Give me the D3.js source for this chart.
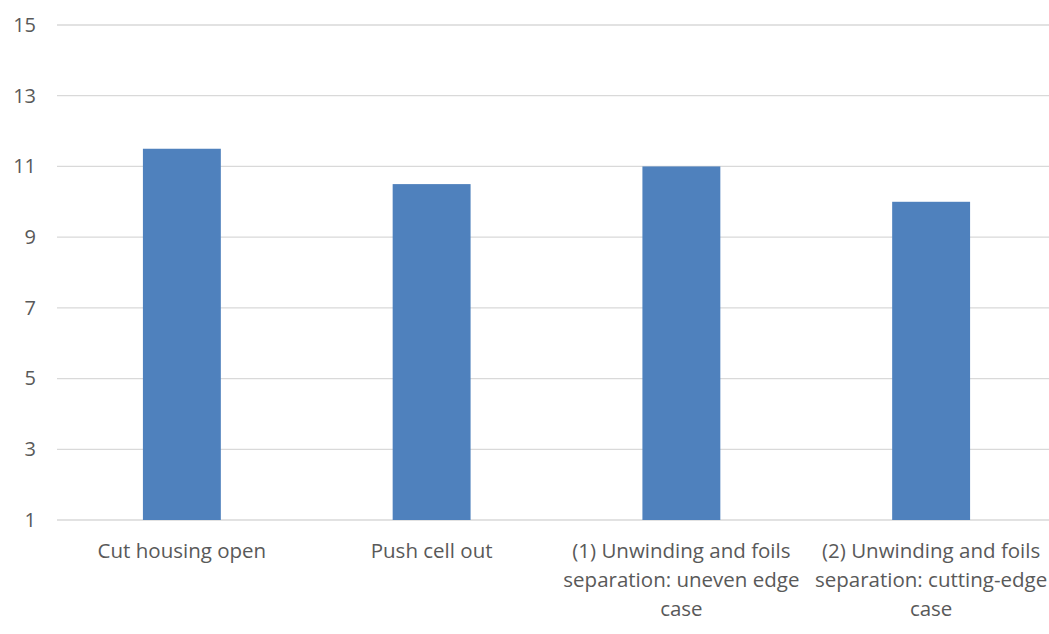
<!DOCTYPE html>
<html>
<head>
<meta charset="utf-8">
<script src="https://cdn.jsdelivr.net/npm/d3@7"></script>
<style>
  html, body { margin: 0; padding: 0; background: #fff; overflow: hidden; }
  svg { display: block; }
  text { font-family: "Open Sans", "Noto Sans", sans-serif; fill: #595959; }
</style>
</head>
<body>
<svg id="chart" width="1049" height="634"></svg>
<script>
// Process steps (line breaks as laid out under each bar)
const categories = [
  "Cut housing open",
  "Push cell out",
  "(1) Unwinding and foils\nseparation: uneven edge\ncase",
  "(2) Unwinding and foils\nseparation: cutting-edge\ncase"
];
const values = [11.5, 10.5, 11.0, 10.0];
const yTicks = [1, 3, 5, 7, 9, 11, 13, 15];

const svg = d3.select("#chart");
const margin = { left: 57, right: -7, top: 25, bottom: 114 };
const W = 1049, H = 634;

const x = d3.scaleBand()
  .domain(categories)
  .range([margin.left, W - margin.right])
  .paddingInner(0.688)
  .paddingOuter(0.344);

const y = d3.scaleLinear()
  .domain([1, 15])
  .range([H - margin.bottom, margin.top]);

// Horizontal gridlines
svg.append("g")
  .selectAll("line")
  .data(yTicks)
  .join("line")
  .attr("x1", margin.left)
  .attr("x2", W)
  .attr("y1", d => y(d))
  .attr("y2", d => y(d))
  .attr("stroke", "#d9d9d9")
  .attr("stroke-width", 1.3);

// Y axis labels
const yAxis = d3.axisLeft(y).tickValues(yTicks).tickSize(0).tickPadding(0);
const yg = svg.append("g")
  .attr("transform", `translate(${margin.left - 21},0)`)
  .call(yAxis);
yg.select(".domain").remove();
yg.selectAll("text")
  .style("font-size", "20px")
  .style("fill", "#595959")
  .style("font-family", "'Open Sans', 'Noto Sans', sans-serif");

// Bars
svg.append("g")
  .selectAll("rect")
  .data(values)
  .join("rect")
  .attr("x", (d, i) => x(categories[i]))
  .attr("width", x.bandwidth())
  .attr("y", d => y(d))
  .attr("height", d => y(1) - y(d))
  .attr("fill", "#4f81bd");

// Category labels below the axis
const lab = svg.append("g")
  .selectAll("text")
  .data(categories)
  .join("text")
  .attr("x", d => x(d) + x.bandwidth() / 2)
  .attr("y", 558)
  .attr("text-anchor", "middle")
  .style("font-size", "20.5px");
lab.each(function(d) {
  const t = d3.select(this);
  d.split("\n").forEach((line, k) => {
    t.append("tspan")
      .attr("x", x(d) + x.bandwidth() / 2)
      .attr("dy", k === 0 ? 0 : 29)
      .text(line);
  });
});
</script>
</body>
</html>
